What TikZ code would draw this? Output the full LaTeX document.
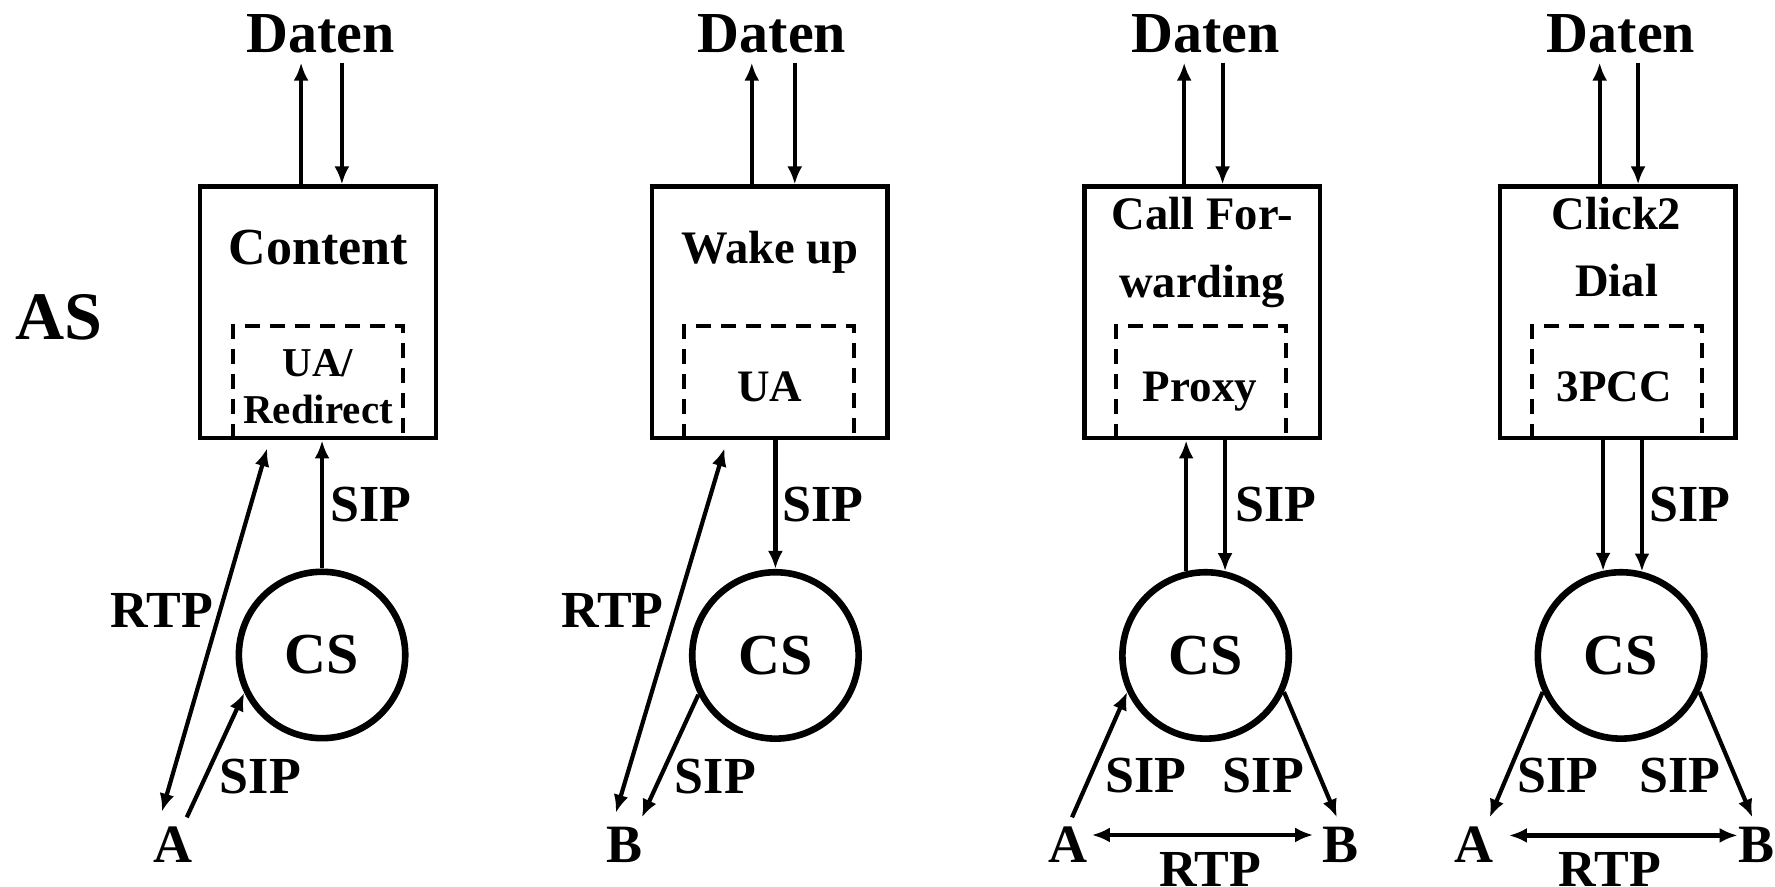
\documentclass[tikz,border=0pt]{standalone}
\usepackage{fontspec}
\setmainfont{Liberation Serif}
\usetikzlibrary{arrows.meta}
\begin{document}
\begin{tikzpicture}[x=0.56601pt,y=-0.56601pt,
  tip/.tip={Latex[length=9pt,width=7.5pt]},
  arr/.style={line width=2.1pt,-tip},
  dbl/.style={line width=2.1pt,tip-tip},
  asbox/.style={draw,line width=2.2pt,minimum width=117.8pt,minimum height=125.8pt,inner sep=0pt},
  uabox/.style={draw,line width=2.2pt,dash pattern=on 7.5pt off 5pt,minimum width=85pt,minimum height=56.1pt,inner sep=0pt},
  csnode/.style={circle,draw,line width=3.3pt,minimum size=83.2pt,inner sep=0pt,font=\fontsize{29}{30}\selectfont\bfseries},
  txt/.style={anchor=base,inner sep=0pt},
  dat/.style={txt,outer ysep=5pt,font=\fontsize{29}{30}\selectfont\bfseries},
  ttl/.style={txt,font=\fontsize{23.3}{25}\selectfont\bfseries},
  ual/.style={txt,font=\fontsize{20.5}{22}\selectfont\bfseries},
  uat/.style={txt,font=\fontsize{22.5}{24}\selectfont\bfseries},
  lbl/.style={txt,font=\fontsize{26}{28}\selectfont\bfseries},
  ab/.style={txt,font=\fontsize{27}{28}\selectfont\bfseries},
]
\fill[white] (0,0) rectangle (1568,783);
\useasboundingbox (0,0) rectangle (1568,783);

\node[txt,font=\fontsize{34}{36}\selectfont\bfseries] (as) at (52,300) {AS};

% ---------- Panel 1 ----------
\node[asbox] (b1) at (281,276) {};
\node[uabox] (u1) at (281,337.5) {};
\node[dat] (d1) at (283,46) {Daten};
\node[txt,font=\fontsize{26}{28}\selectfont\bfseries] (t1) at (281,234) {Content};
\node[ual] (t1a) at (281,333) {UA/};
\node[ual] (t1b) at (281,374) {Redirect};
\node[csnode] (c1) at (284.5,578.6) {CS};
\node[ab] (A1) at (153,762) {A};
\node[lbl] (r1) at (143,554) {RTP};
\node[lbl] (s1a) at (328,461) {SIP};
\node[lbl] (s1b) at (230,701) {SIP};
\coordinate (e1a) at (143,717);
\coordinate (e1b) at (236,396);
\coordinate (e1c) at (165,722);
\draw[arr] ([xshift=-8.5pt]b1.north) -- ([xshift=-8.5pt]b1.north |- d1.south);
\draw[arr] ([xshift=11.9pt]b1.north |- d1.south) -- ([xshift=11.9pt]b1.north);
\draw[arr] (c1.north) -- (c1.north |- b1.south);
\draw[dbl] (e1a) -- (e1b);
\draw[arr] (e1c) -- (c1.206);

% ---------- Panel 2 ----------
\node[asbox] (b2) at (680,276) {};
\node[uabox] (u2) at (679.5,337.5) {};
\node[dat] (d2) at (682,46) {Daten};
\node[ttl] (t2) at (680,233) {Wake up};
\node[uat] (t2a) at (680,355) {UA};
\node[csnode] (c2) at (685,579) {CS};
\node[ab] (B2) at (552,762) {B};
\node[lbl] (r2) at (541,554) {RTP};
\node[lbl] (s2a) at (727,461) {SIP};
\node[lbl] (s2b) at (632,701) {SIP};
\coordinate (e2a) at (544,718);
\coordinate (e2b) at (640,396);
\coordinate (e2c) at (567,722);
\draw[arr] ([xshift=-9pt]b2.north) -- ([xshift=-9pt]b2.north |- d2.south);
\draw[arr] ([xshift=12.5pt]b2.north |- d2.south) -- ([xshift=12.5pt]b2.north);
\draw[arr] (b2.south -| c2.north) -- (c2.north);
\draw[dbl] (e2a) -- (e2b);
\draw[arr] (c2.207) -- (e2c);

% ---------- Panel 3 ----------
\node[asbox] (b3) at (1062,276) {};
\node[uabox] (u3) at (1061,337.5) {};
\node[dat] (d3) at (1065,46) {Daten};
\node[ttl] (t3) at (1062,203) {Call For-};
\node[ttl] (t3b) at (1062,263) {warding};
\node[uat] (t3a) at (1060,355) {Proxy};
\node[csnode] (c3) at (1065,579) {CS};
\node[ab] (A3) at (943.6,762) {A};
\node[ab] (B3) at (1184,762) {B};
\node[lbl] (s3a) at (1127,461) {SIP};
\node[lbl] (s3b) at (1012,700) {SIP};
\node[lbl] (s3c) at (1116,700) {SIP};
\node[lbl] (r3) at (1069,783) {RTP};
\coordinate (e3a) at (947,722);
\coordinate (e3b) at (1181,722);
\coordinate (e3c) at (964.5,737.6);
\coordinate (e3d) at (1160,737.6);
\draw[arr] ([xshift=-9pt]b3.north) -- ([xshift=-9pt]b3.north |- d3.south);
\draw[arr] ([xshift=10.2pt]b3.north |- d3.south) -- ([xshift=10.2pt]b3.north);
\draw[arr] (c3.103) -- (c3.103 |- b3.south);
\draw[arr] (b3.south -| c3.77) -- (c3.77);
\draw[arr] (e3a) -- (c3.205);
\draw[arr] (c3.335) -- (e3b);
\draw[dbl] (e3c) -- (e3d);

% ---------- Panel 4 ----------
\node[asbox] (b4) at (1429,276) {};
\node[uabox] (u4) at (1428.5,337.5) {};
\node[dat] (d4) at (1432,46) {Daten};
\node[ttl] (t4) at (1428,203) {Click2};
\node[ttl] (t4b) at (1428,262) {Dial};
\node[uat] (t4a) at (1426,355) {3PCC};
\node[csnode] (c4) at (1432,579) {CS};
\node[ab] (A4) at (1302,762) {A};
\node[ab] (B4) at (1552,762) {B};
\node[lbl] (s4a) at (1493,461) {SIP};
\node[lbl] (s4b) at (1376,700) {SIP};
\node[lbl] (s4c) at (1484,700) {SIP};
\node[lbl] (r4) at (1422,783) {RTP};
\coordinate (e4a) at (1316,722);
\coordinate (e4b) at (1548,722);
\coordinate (e4c) at (1333,738);
\coordinate (e4d) at (1535,738);
\draw[arr] ([xshift=-9pt]b4.north) -- ([xshift=-9pt]b4.north |- d4.south);
\draw[arr] ([xshift=10.2pt]b4.north |- d4.south) -- ([xshift=10.2pt]b4.north);
\draw[arr] (b4.south -| c4.102) -- (c4.102);
\draw[arr] (b4.south -| c4.76) -- (c4.76);
\draw[arr] (c4.205) -- (e4a);
\draw[arr] (c4.335) -- (e4b);
\draw[dbl] (e4c) -- (e4d);
\end{tikzpicture}
\end{document}
